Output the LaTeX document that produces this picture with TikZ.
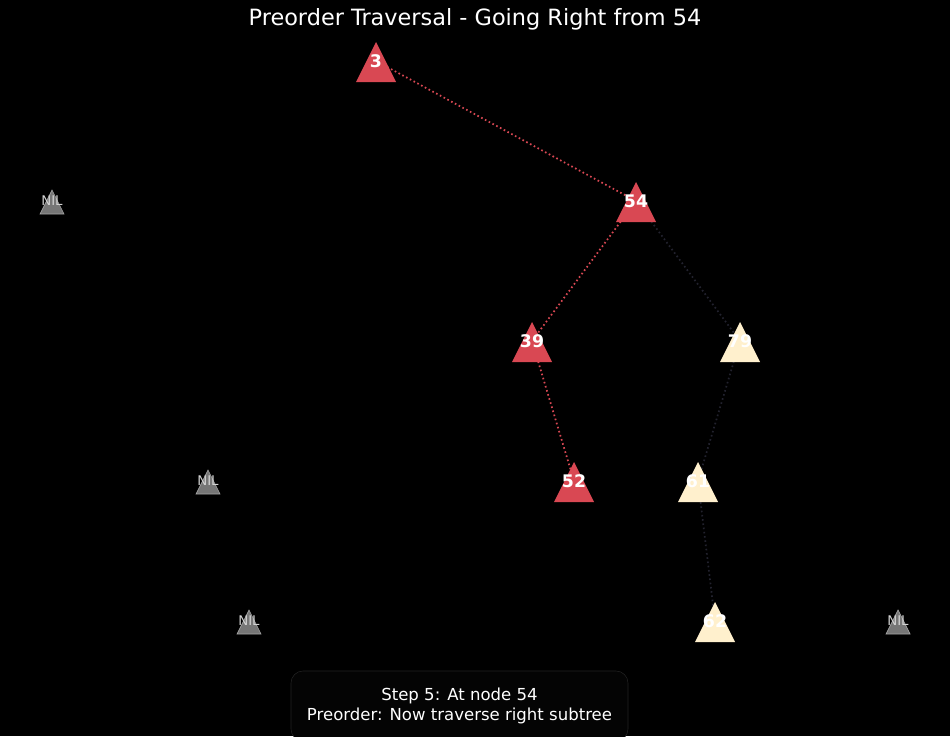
\documentclass[tikz,border=0pt]{standalone}
\usepackage{fontspec}
\setmainfont{DejaVu Sans}
\usetikzlibrary{backgrounds}
\definecolor{visited}{RGB}{217,72,83}
\definecolor{pending}{RGB}{255,240,205}
\definecolor{nilfill}{RGB}{118,118,118}
\definecolor{nilline}{RGB}{165,165,165}
\definecolor{niltext}{RGB}{210,210,210}
\definecolor{faint}{RGB}{34,34,46}
\definecolor{boxline}{RGB}{34,34,34}
\definecolor{boxfill}{RGB}{4,4,4}
\tikzset{
  key/.style={font=\fontsize{13}{13}\selectfont\bfseries,text=white,inner sep=0pt},
  nil/.style={font=\fontsize{10}{10}\selectfont,text=niltext,inner sep=0pt},
  link/.style={line width=1.3pt,dash pattern=on 1.2pt off 2pt},
}
\begin{document}
\begin{tikzpicture}[x=0.75pt,y=-0.75pt]
\useasboundingbox (0,0) rectangle (950,736);
\foreach \x/\y/\c in {376/62/visited,636/202/visited,532/342/visited,574/482/visited,740/342/pending,698/482/pending,715/622/pending}
  \fill[\c] (\x,\y-20) -- (\x+20,\y+20) -- (\x-20,\y+20) -- cycle;
\foreach \x/\y in {52/202,208/482,249/622,898/622}
  \filldraw[fill=nilfill,draw=nilline,line width=0.5pt] (\x,\y-12) -- (\x+12,\y+12) -- (\x-12,\y+12) -- cycle;
\node[key] (n3) at (376,61) {3};
\node[key] (n54) at (636,201) {54};
\node[key] (n39) at (532,341) {39};
\node[key] (n79) at (740,341) {79};
\node[key] (n52) at (574,481) {52};
\node[key] (n61) at (698,481) {61};
\node[key] (n62) at (715,621) {62};
\node[nil] (nil1) at (52,201) {NIL};
\node[nil] (nil2) at (208,481) {NIL};
\node[nil] (nil3) at (249,621) {NIL};
\node[nil] (nil4) at (898,621) {NIL};
\node[text=white,font=\fontsize{16.8}{18}\selectfont] (title) at (475,19) {Preorder Traversal - Going Right from 54};
\node[draw=boxline,fill=boxfill,rounded corners=9pt,minimum width=252.75pt,minimum height=52.5pt,text=white,align=center,font=\fontsize{12.4}{15}\selectfont] (info) at (459.5,706) {Step 5: At node 54\\Preorder: Now traverse right subtree};
\begin{scope}[on background layer]
\fill[black] (0,0) rectangle (950,736);
\draw[link,visited] (n3.center) -- (n54.center);
\draw[link,visited] (n54.center) -- (n39.center);
\draw[link,visited] (n39.center) -- (n52.center);
\draw[link,faint] (n54.center) -- (n79.center);
\draw[link,faint] (n79.center) -- (n61.center);
\draw[link,faint] (n61.center) -- (n62.center);
\end{scope}
\end{tikzpicture}
\end{document}
